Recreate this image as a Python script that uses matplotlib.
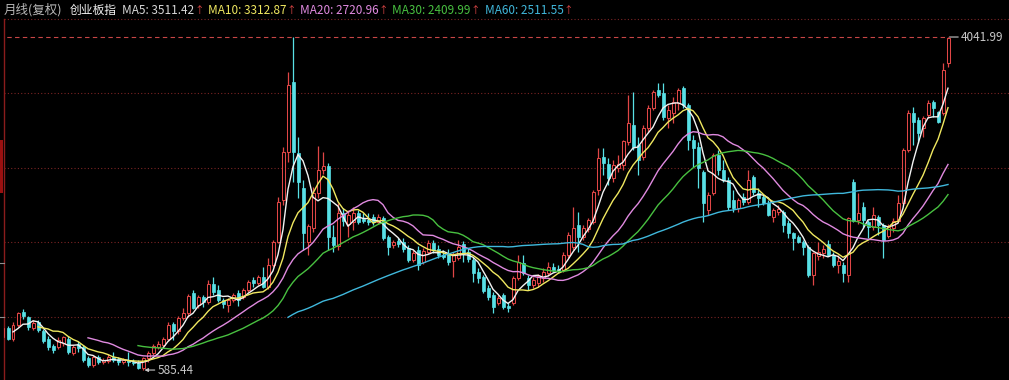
import numpy as np
import pandas as pd
import matplotlib
matplotlib.use('Agg')
import matplotlib.pyplot as plt
from matplotlib.patches import Rectangle
from matplotlib.lines import Line2D

plt.rcParams['font.family'] = ['Noto Sans CJK SC', 'DejaVu Sans']

# 创业板指 monthly bars, Jun 2010 .. May 2026
# (the first three months are scrolled off the left edge, only used by the MAs)
hidden = 3

opens = [
    973, 1000, 925, 1021, 907, 1053, 1187,
    1135, 1021, 1084, 990, 907, 834, 824, 866, 907, 762, 855, 824,
    710, 637, 720, 668, 679, 720, 700, 668, 689, 668, 658, 604,
    712, 762, 824, 850, 907, 1063, 990, 1125, 1177, 1380, 1260, 1343,
    1291, 1478, 1416, 1312, 1260, 1312, 1385, 1343, 1416, 1520, 1488, 1551,
    1447, 1675, 1914, 2350, 2848, 3575, 2838, 2475, 1914, 2059, 2423, 2661,
    2703, 1966, 1873, 2215, 2101, 2122, 2215, 2153, 2142, 2174, 2122, 2163,
    1966, 1883, 1924, 1914, 1852, 1727, 1831, 1706, 1810, 1904, 1841, 1779,
    1800, 1717, 1748, 1893, 1810, 1727, 1603, 1551, 1437, 1364, 1281, 1364,
    1250, 1281, 1540, 1696, 1540, 1468, 1488, 1540, 1592, 1655, 1634, 1623,
    1779, 1862, 2091, 1966, 2049, 2122, 2454, 2796, 2724, 2578, 2682, 2713,
    2952, 3129, 2921, 2796, 3097, 3305, 3492, 3461, 3201, 3253, 3357, 3513,
    3336, 2973, 2900, 2641, 2246, 2423, 2817, 2661, 2558, 2350, 2267, 2381,
    2329, 2589, 2423, 2381, 2319, 2174, 2225, 2225, 2111, 2007, 1966, 1914,
    1862, 1571, 1769, 1800, 1893, 1779, 1675, 1675, 1571, 2537, 2142, 2277,
    2122, 2070, 2174, 2091, 1976, 2059, 2132, 2319, 2869, 3253, 3180, 3097,
    3232, 3367, 3263, 3253, 3772,
]
highs = [
    1010, 1010, 1030, 1042, 1084, 1187, 1219,
    1146, 1104, 1104, 1011, 938, 855, 928, 938, 938, 845, 886, 845,
    731, 741, 741, 710, 751, 772, 720, 710, 772, 700, 689, 720,
    783, 855, 886, 928, 1084, 1084, 1146, 1229, 1374, 1416, 1364, 1364,
    1520, 1551, 1468, 1333, 1333, 1385, 1416, 1437, 1520, 1551, 1571, 1655,
    1748, 1935, 2381, 2900, 3679, 4037.96, 3004, 2558, 2101, 2485, 2911, 2848,
    2734, 2091, 2319, 2267, 2246, 2277, 2246, 2215, 2215, 2205, 2205, 2184,
    1987, 1935, 1956, 1956, 1883, 1831, 1873, 1852, 1935, 1935, 1883, 1831,
    1841, 1810, 1935, 1924, 1852, 1758, 1644, 1571, 1468, 1395, 1364, 1385,
    1281, 1561, 1779, 1779, 1571, 1551, 1582, 1644, 1706, 1696, 1675, 1810,
    2018, 2277, 2225, 2091, 2163, 2454, 2890, 2890, 2786, 2765, 2817, 2973,
    3440, 3471, 3004, 3129, 3336, 3492, 3564, 3564, 3336, 3419, 3513, 3530,
    3357, 3025, 2952, 2661, 2433, 2838, 2869, 2765, 2589, 2454, 2371, 2423,
    2661, 2610, 2475, 2402, 2350, 2267, 2298, 2246, 2142, 2018, 1987, 1935,
    1883, 1810, 1914, 1883, 1935, 1810, 1779, 1706, 2174, 2568, 2423, 2329,
    2142, 2277, 2194, 2111, 2101, 2163, 2402, 2890, 3284, 3315, 3212, 3222,
    3388, 3388, 3274, 3772, 4041.99,
]
lows = [
    950, 900, 915, 897, 886, 1032, 1115,
    1001, 1001, 980, 866, 793, 762, 803, 834, 751, 741, 772, 668,
    617, 617, 648, 648, 658, 668, 637, 648, 627, 637, 594, 585.44,
    668, 741, 803, 814, 886, 897, 959, 1104, 1135, 1219, 1229, 1240,
    1270, 1364, 1291, 1229, 1187, 1291, 1250, 1322, 1395, 1447, 1468, 1437,
    1426, 1655, 1900, 2298, 2744, 2537, 2371, 1831, 1779, 2018, 2371, 2620,
    1831, 1810, 1831, 2080, 1966, 2039, 2101, 2111, 2091, 2091, 2101, 1935,
    1779, 1852, 1862, 1810, 1706, 1706, 1623, 1686, 1790, 1800, 1748, 1738,
    1675, 1551, 1727, 1706, 1706, 1499, 1488, 1385, 1312, 1177, 1260, 1219,
    1187, 1260, 1520, 1571, 1416, 1437, 1447, 1499, 1561, 1603, 1592, 1603,
    1748, 1831, 1810, 1935, 2018, 2101, 2402, 2610, 2506, 2537, 2641, 2661,
    2921, 2869, 2610, 2765, 3056, 3284, 3419, 3180, 3097, 3149, 3284, 3305,
    2869, 2693, 2475, 2122, 2194, 2402, 2610, 2537, 2246, 2225, 2225, 2298,
    2308, 2402, 2277, 2298, 2184, 2122, 2194, 2018, 1956, 1831, 1904, 1779,
    1551, 1468, 1727, 1748, 1769, 1655, 1592, 1499, 1499, 2122, 2101, 2059,
    1956, 2039, 1987, 1748, 1956, 2018, 2122, 2298, 2848, 2921, 2942, 3004,
    3201, 3212, 3149, 3232, 3731,
]
closes = [
    1000, 925, 1021, 907, 1053, 1177, 1146,
    1032, 1073, 1001, 886, 824, 793, 897, 928, 772, 824, 814, 689,
    637, 720, 668, 689, 720, 689, 668, 689, 668, 658, 606, 710,
    762, 834, 855, 907, 1053, 990, 1125, 1177, 1354, 1229, 1343, 1290,
    1478, 1395, 1312, 1270, 1312, 1364, 1312, 1416, 1499, 1488, 1551, 1447,
    1675, 1914, 2329, 2848, 3544, 2848, 2537, 2007, 2080, 2423, 2661, 2703,
    1966, 1883, 2215, 2132, 2194, 2215, 2122, 2132, 2122, 2122, 2174, 1956,
    1862, 1914, 1893, 1841, 1727, 1800, 1675, 1821, 1904, 1831, 1779, 1758,
    1706, 1790, 1862, 1800, 1738, 1592, 1540, 1405, 1343, 1239, 1333, 1239,
    1229, 1540, 1706, 1592, 1468, 1520, 1561, 1603, 1655, 1623, 1613, 1779,
    1987, 2059, 1966, 2059, 2142, 2433, 2786, 2734, 2578, 2713, 2724, 2963,
    3149, 2900, 2765, 3097, 3305, 3471, 3440, 3212, 3284, 3367, 3492, 3336,
    2973, 2890, 2682, 2319, 2402, 2817, 2661, 2558, 2277, 2267, 2350, 2329,
    2558, 2433, 2371, 2319, 2194, 2246, 2257, 2091, 2007, 1956, 1914, 1862,
    1571, 1800, 1810, 1841, 1779, 1675, 1717, 1592, 2163, 2132, 2215, 2142,
    2070, 2194, 2091, 1935, 2070, 2132, 2319, 2869, 3253, 3160, 3046, 3201,
    3357, 3305, 3160, 3700, 4032,
]

ma_periods = [5, 10, 20, 30, 60]
ma_values = ['3511.42', '3312.87', '2720.96', '2409.99', '2511.55']
ma_colors = ['#f2f2f2', '#f0e860', '#e08ae0', '#48c040', '#40b8dc']
title_left = '月线(复权)'
index_name = '创业板指'

grid_levels = [4229, 3461, 2682, 1914, 1135]

red = '#e04646'
cyan = '#58e0e6'

W, H = 1009, 380
fig = plt.figure(figsize=(W / 100, H / 100), dpi=100, facecolor='black')
ax = fig.add_axes([4 / W, 0, (W - 4) / W, (H - 19) / H])
ax.set_facecolor('black')

o = np.array(opens, float)
h = np.array(highs, float)
l = np.array(lows, float)
c = np.array(closes, float)
x = np.arange(len(c))
up = c >= o

# grid
for g in grid_levels:
    ax.axhline(g, color='#7a2424', lw=0.8, ls=(0, (1, 2)), zorder=1, clip_on=False)

# candles
ax.vlines(x[up], l[up], h[up], color=red, lw=0.9, zorder=2)
ax.vlines(x[~up], l[~up], h[~up], color=cyan, lw=0.9, zorder=2)
for xi, oi, ci, u in zip(x, o, c, up):
    bottom = min(oi, ci)
    height = max(abs(ci - oi), 4)
    if u:
        ax.add_patch(Rectangle((xi - 0.3, bottom), 0.6, height, facecolor='black',
                               edgecolor=red, lw=0.75, zorder=3))
    else:
        ax.add_patch(Rectangle((xi - 0.3, bottom), 0.6, height, facecolor=cyan,
                               edgecolor=cyan, lw=0.5, zorder=3))

# moving averages
cs = pd.Series(c)
for n, col in zip(ma_periods, ma_colors):
    ax.plot(x, cs.rolling(n).mean(), color=col, lw=1.0, zorder=4)

# max / min marks
i_hi = int(np.argmax(h))
i_lo = int(np.argmin(l))
ax.hlines(h[i_hi], x[0], x[i_hi], colors='#c84646', lw=0.8, linestyles=(0, (4, 3)), zorder=1)
ax.annotate(f'{h[i_hi]:.2f}', xy=(x[i_hi], h[i_hi]), xytext=(13, 0),
            textcoords='offset pixels', color='#c8c8c8', fontsize=8.5, va='center',
            arrowprops=dict(arrowstyle='-', color='#c8c8c8', lw=0.8, shrinkA=0, shrinkB=1))
ax.annotate(f'{l[i_lo]:.2f}', xy=(x[i_lo] + 0.3, l[i_lo]), xytext=(13, 0),
            textcoords='offset pixels', color='#c8c8c8', fontsize=8.5, va='center',
            arrowprops=dict(arrowstyle='-|>', color='#c8c8c8', lw=0.8,
                            mutation_scale=5, shrinkA=0, shrinkB=0))

ax.set_xlim(hidden - 0.8, hidden + (W - 8) / 5)
ax.set_ylim(482, 4229)
ax.set_xticks([])
ax.set_yticks([])
for s in ['top', 'right', 'bottom']:
    ax.spines[s].set_visible(False)
ax.spines['left'].set_color('#8a1c1c')
ax.spines['left'].set_linewidth(1.0)

# left edge bits
fig.add_artist(Rectangle((0, 1 - 193 / H), 3 / W, 53 / H, transform=fig.transFigure,
                         facecolor='#9a1010', edgecolor='none'))
for ty in [263, 317]:
    fig.add_artist(Line2D([0, 4 / W], [1 - ty / H] * 2, transform=fig.transFigure,
                          color='#909090', lw=0.8))

# header line, pieces laid out one after another
renderer = fig.canvas.get_renderer()
ty = 1 - 10 / H


def put(px, s, col, size=8.5, gap=0):
    t = fig.text(px / W, ty, s, color=col, fontsize=size, va='center')
    bb = t.get_window_extent(renderer)
    return bb.x1 + gap


fig.text(4 / W, ty, title_left, color='#b8b8b8', fontsize=9, va='center')
fig.text(70 / W, ty, index_name, color='#f4f4f4', fontsize=8.5, va='center')
px = 122
for n, v, col in zip(ma_periods, ma_values, ma_colors):
    px = put(px, f'MA{n}: {v}', col if n != 5 else '#d8d8d8', gap=0)
    px = put(px, '↑', '#e04646', size=7, gap=4)

fig.savefig('out.png', dpi=100, facecolor='black')
